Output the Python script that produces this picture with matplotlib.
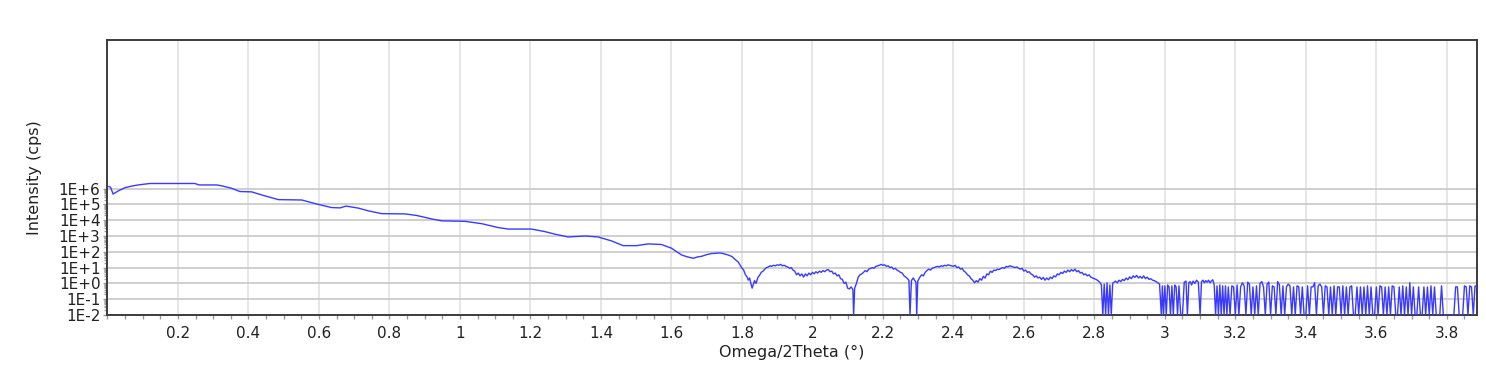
import numpy as np
import matplotlib
matplotlib.use("Agg")
import matplotlib.pyplot as plt
from matplotlib.ticker import FixedLocator, MultipleLocator, FuncFormatter, NullFormatter

# (2theta, cps)
smooth = [
    (0.004, 1.35e6), (0.009, 1.2e6), (0.016, 4.5e5), (0.03, 7e5), (0.05, 1.15e6),
    (0.07, 1.45e6), (0.087, 1.7e6), (0.12, 2.1e6), (0.18, 2.1e6), (0.248, 2.1e6),
    (0.26, 1.7e6), (0.31, 1.7e6), (0.324, 1.5e6), (0.352, 1.05e6), (0.376, 6.5e5),
    (0.409, 6.2e5), (0.437, 4.0e5), (0.485, 2.0e5), (0.551, 1.9e5), (0.598, 1.0e5),
    (0.636, 6.3e4), (0.66, 6.0e4), (0.677, 7.8e4), (0.712, 5.8e4), (0.74, 3.9e4),
    (0.778, 2.6e4), (0.844, 2.5e4), (0.877, 2.0e4), (0.92, 1.2e4), (0.948, 9.1e3),
    (1.014, 8.5e3), (1.062, 6.0e3), (1.109, 3.4e3), (1.137, 2.75e3), (1.203, 2.75e3),
    (1.241, 1.9e3), (1.27, 1.3e3), (1.307, 870), (1.355, 1000), (1.392, 870),
    (1.43, 490), (1.463, 245), (1.501, 245), (1.534, 316), (1.572, 290),
    (1.60, 170), (1.629, 63), (1.645, 48), (1.662, 39), (1.672, 46), (1.686, 52),
    (1.70, 66), (1.714, 78), (1.726, 80), (1.738, 85), (1.75, 74), (1.761, 63),
    (1.772, 50), (1.78, 34), (1.79, 22), (1.799, 10),
]

fringes = [
    (1.805, 7), (1.81, 3.5), (1.815, 2.5), (1.818, 1.6), (1.822, 2.2), (1.826, 0.9),
    (1.829, 0.5), (1.832, 0.8), (1.836, 1.5), (1.84, 1.0), (1.846, 2.5), (1.85, 3.2),
    (1.855, 5), (1.86, 6), (1.865, 8), (1.87, 10), (1.875, 11), (1.88, 13),
    (1.884, 12), (1.89, 14), (1.895, 13), (1.9, 15), (1.905, 14), (1.91, 16),
    (1.915, 13), (1.92, 14), (1.925, 12), (1.93, 11), (1.935, 9), (1.94, 10),
    (1.945, 7), (1.95, 6), (1.955, 3.5), (1.96, 4.5), (1.965, 3), (1.97, 4),
    (1.975, 2.5), (1.98, 4), (1.985, 3), (1.99, 4.5), (1.995, 3.5), (2.0, 5),
    (2.005, 4), (2.01, 5.5), (2.015, 4.5), (2.02, 6), (2.025, 5), (2.03, 6.5),
    (2.035, 5.5), (2.04, 7), (2.045, 7.5), (2.05, 5.5), (2.055, 6), (2.06, 4),
    (2.065, 4.5), (2.07, 3), (2.075, 3.5), (2.08, 2), (2.085, 1.8), (2.09, 1),
    (2.095, 1.2), (2.1, 0.5), (2.105, 0.45), (2.11, 0.6), (2.115, 0.4), (2.117, 0),
    (2.12, 0.5), (2.125, 1), (2.13, 2.5), (2.135, 3.5), (2.14, 4), (2.145, 5),
    (2.15, 6.5), (2.155, 5.5), (2.16, 8), (2.165, 9), (2.17, 10), (2.175, 9),
    (2.18, 12), (2.185, 13), (2.19, 14), (2.195, 16), (2.2, 14), (2.205, 15),
    (2.21, 12), (2.215, 13), (2.22, 10), (2.225, 11), (2.23, 8), (2.235, 9),
    (2.24, 7), (2.245, 6), (2.25, 5), (2.255, 4.5), (2.26, 3), (2.265, 2.5),
    (2.27, 2), (2.274, 1.5), (2.277, 0), (2.281, 1.5), (2.286, 2.2), (2.29, 1.6),
    (2.294, 1.2), (2.296, 0), (2.299, 1.4), (2.305, 2.5), (2.31, 3.5), (2.315, 3),
    (2.32, 5), (2.325, 6.5), (2.33, 8), (2.335, 7), (2.34, 9), (2.345, 10),
    (2.35, 11), (2.355, 12), (2.36, 11), (2.365, 13), (2.37, 12), (2.375, 14),
    (2.38, 13), (2.385, 15), (2.39, 14), (2.395, 13), (2.4, 12), (2.405, 14),
    (2.41, 10), (2.415, 11), (2.42, 8), (2.425, 9), (2.43, 6), (2.435, 5),
    (2.44, 3.5), (2.445, 3), (2.45, 2), (2.455, 1.6), (2.46, 1.1), (2.465, 1.5),
    (2.47, 1.2), (2.475, 2), (2.48, 1.6), (2.485, 2.8), (2.49, 2.2), (2.495, 4),
    (2.5, 3.5), (2.505, 6), (2.51, 5), (2.515, 7), (2.52, 6.5), (2.525, 8),
    (2.53, 7.5), (2.535, 9), (2.54, 10), (2.545, 9), (2.55, 12), (2.555, 11),
    (2.56, 13), (2.565, 12), (2.57, 11), (2.575, 10), (2.58, 11), (2.585, 9),
    (2.59, 8), (2.595, 9), (2.6, 6), (2.605, 7), (2.61, 5), (2.615, 5.5),
    (2.62, 4), (2.625, 3.5), (2.63, 2.5), (2.635, 3), (2.64, 2.2), (2.645, 2.5),
    (2.65, 1.8), (2.655, 2.4), (2.66, 1.6), (2.665, 2.2), (2.67, 1.7), (2.675, 2.5),
    (2.68, 2), (2.685, 3), (2.69, 2.6), (2.695, 4), (2.7, 3.5), (2.705, 5),
    (2.71, 4.2), (2.715, 6), (2.72, 5), (2.725, 7), (2.73, 5.5), (2.735, 7.5),
    (2.74, 6), (2.745, 8), (2.75, 5.5), (2.755, 6.5), (2.76, 4.5), (2.765, 5),
    (2.77, 3.5), (2.775, 4), (2.78, 3), (2.785, 3.5), (2.79, 2.5), (2.795, 2.2),
    (2.8, 2), (2.805, 1.8), (2.81, 1.5), (2.815, 1.2), (2.82, 0.8), (2.824, 0),
    (2.828, 0.9), (2.832, 0), (2.836, 1.1), (2.84, 0), (2.844, 0.8), (2.848, 0),
    (2.852, 1), (2.856, 1.2), (2.86, 1.4), (2.865, 1.1), (2.87, 1.6), (2.875, 1.3),
    (2.88, 1.8), (2.885, 1.5), (2.89, 2.2), (2.895, 1.7), (2.9, 2.6), (2.905, 2),
    (2.91, 3), (2.915, 2.4), (2.92, 3.2), (2.925, 2.2), (2.93, 2.8), (2.935, 2.1),
    (2.94, 3), (2.945, 2), (2.95, 2.5), (2.955, 1.8), (2.96, 2), (2.965, 1.6),
    (2.97, 1.5), (2.975, 1.3), (2.98, 1.1), (2.985, 0.9), (2.99, 0), (2.993, 0.7),
    (2.996, 0), (3.0, 0.7), (3.004, 0), (3.008, 0.8), (3.012, 0.6), (3.016, 0),
    (3.02, 0.7), (3.024, 0), (3.028, 0.8), (3.032, 0.6), (3.036, 0), (3.04, 0.7),
    (3.045, 0), (3.05, 0), (3.055, 1.2), (3.06, 1.4), (3.064, 0), (3.068, 1.1),
    (3.072, 1.3), (3.076, 0.8), (3.08, 1.4), (3.085, 1), (3.09, 1.6), (3.095, 1.2),
    (3.1, 0), (3.104, 1.3), (3.108, 1.6), (3.112, 1.1), (3.116, 1.5), (3.12, 1.2),
    (3.124, 1.6), (3.128, 1.1), (3.132, 1.4), (3.136, 1.7), (3.14, 0.8), (3.144, 0),
    (3.148, 0.7), (3.152, 0), (3.156, 0.8), (3.16, 0), (3.164, 0.7), (3.168, 0),
    (3.172, 0.7), (3.176, 0),
]

# noisy tail, 3.18 .. 3.885 every 0.005
tail_start = 3.18
tail_step = 0.005
tail_counts = [
    0.6, 0, 0.7, 0.6, 0, 0.8, 0, 0.6, 1.1, 0.7, 0, 1.2, 0.9, 0, 0.6, 0, 0.7, 0, 1.0, 1.3,
    0.6, 0, 0.9, 1.2, 0, 0.7, 0.6, 0, 1.3, 0.8, 0,
    0.7, 0, 0.6, 0.9, 0.7, 0, 0.6, 0, 0.7, 0.6, 0, 0.6, 0, 0, 0.7, 0, 0.6, 0.6, 1.1, 0,
    0.7, 0.9, 0.6, 0, 0.7, 0.6, 0, 0.6, 0, 0.7, 0, 0.6, 0.6, 0,
    0.7, 0, 0.6, 0, 0.6, 0.7, 0, 0, 0.6, 0, 0.6, 0, 0.6, 0, 0.7, 0, 0.6, 0, 0, 0.6,
    0, 0.7, 0.6, 0, 0.6, 0, 0.6, 0, 0.7, 0.6, 0, 0, 0.6, 0, 0.7, 0, 0.6, 0, 1.1, 0,
    0.6, 0, 0, 0.6, 0, 0, 0.6, 0, 0.6, 0, 0.7, 0, 0.6, 0, 0, 0, 0.7, 0, 0, 0,
    0, 0, 0, 0, 0.6, 0.6, 0, 0, 0, 0.7, 0.6, 0, 0.7, 0.6, 0, 0.7, 0.6,
]

x_ticks = [0.2, 0.4, 0.6, 0.8, 1.0, 1.2, 1.4, 1.6, 1.8, 2.0, 2.2, 2.4, 2.6, 2.8,
           3.0, 3.2, 3.4, 3.6, 3.8]
y_ticks = [1e-2, 1e-1, 1e0, 1e1, 1e2, 1e3, 1e4, 1e5, 1e6]

sx, sy = zip(*(smooth + fringes))
tx = tail_start + tail_step * np.arange(len(tail_counts))
two_theta = np.concatenate([sx, tx])
cps = np.concatenate([sy, tail_counts])
# zero counts sit on the bottom edge of the plot
cps_plot = np.maximum(cps, 1e-2)

fig = plt.figure(figsize=(14.86, 3.87), dpi=100)
ax = fig.add_axes([0.0723, 0.186, 0.9215, 0.7105])

ax.plot(two_theta, cps_plot, color="#3a3aff", linewidth=1.0, zorder=3)

ax.set_yscale("log")
ax.set_xlim(0, 3.885)
ax.set_ylim(1e-2, 2.5e15)

ax.xaxis.set_major_locator(FixedLocator(x_ticks))
ax.xaxis.set_minor_locator(MultipleLocator(0.05))
ax.xaxis.set_major_formatter(FuncFormatter(lambda v, p: f"{v:g}"))

# minor log ticks only across the labelled decades
minor_y = [m * d for d in y_ticks[:-1] for m in range(2, 10)]
ax.yaxis.set_major_locator(FixedLocator(y_ticks))
ax.yaxis.set_minor_locator(FixedLocator(minor_y))
ax.yaxis.set_minor_formatter(NullFormatter())


def exp_label(v, p):
    e = int(round(np.log10(v)))
    return f"1E{'+' if e >= 0 else '-'}{abs(e)}"


ax.yaxis.set_major_formatter(FuncFormatter(exp_label))

ax.grid(axis="x", which="major", color="#e4e4e4", linewidth=1.3, zorder=0)
ax.grid(axis="y", which="major", color="#cccccc", linewidth=1.3, zorder=0)
ax.set_axisbelow(True)

for spine in ax.spines.values():
    spine.set_color("#3c3c3c")
    spine.set_linewidth(1.4)

ax.tick_params(axis="both", which="both", direction="out", color="#9a9a9a",
               width=1.0, labelcolor="#222222")
ax.tick_params(axis="x", which="major", length=3, pad=5, labelsize=11)
ax.tick_params(axis="x", which="minor", length=3)
ax.tick_params(axis="y", which="major", length=3, pad=2, labelsize=11)
ax.tick_params(axis="y", which="minor", length=2)

ax.set_xlabel("Omega/2Theta (°)", fontsize=11.5, color="#222222", labelpad=3)
ax.set_ylabel("Intensity (cps)", fontsize=11.5, color="#222222", labelpad=12)

plt.savefig("out.png", dpi=100)
plt.close()
